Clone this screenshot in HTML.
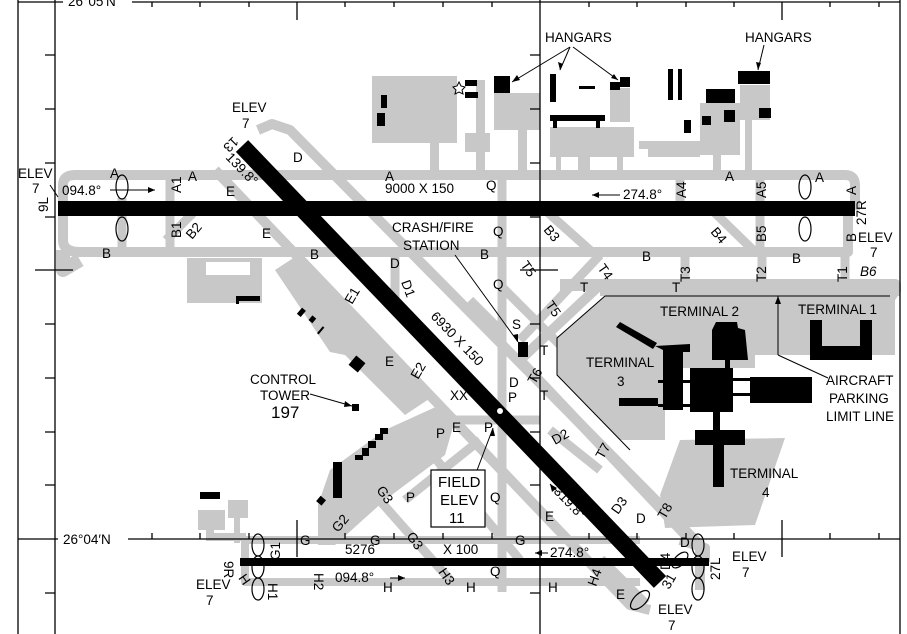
<!DOCTYPE html>
<html><head><meta charset="utf-8"><style>
html,body{margin:0;padding:0;background:#fff;}
svg{display:block;}
text{font-family:"Liberation Sans",sans-serif;fill:#000;}
</style></head><body>
<svg width="907" height="634" viewBox="0 0 907 634" xmlns="http://www.w3.org/2000/svg">
<rect width="907" height="634" fill="#fff"/>
<g fill="#c8c8c8" stroke="none">
<rect x="372" y="76" width="85" height="67"/>
<rect x="430" y="140" width="9" height="35"/>
<rect x="476" y="80" width="9" height="95"/>
<rect x="465" y="133" width="25" height="19"/>
<rect x="494" y="93" width="46" height="37"/>
<rect x="518" y="128" width="9" height="47"/>
<rect x="550" y="127" width="84" height="30"/>
<rect x="556" y="155" width="5" height="20"/><rect x="578" y="155" width="12" height="20"/><rect x="617" y="155" width="6" height="20"/>
<rect x="610" y="88" width="20" height="34"/>
<rect x="639" y="141" width="61" height="8"/><rect x="648" y="147" width="52" height="10"/>
<rect x="700" y="103" width="40" height="52"/>
<rect x="713" y="150" width="8" height="25"/>
<rect x="740" y="85" width="30" height="35"/>
<rect x="745" y="118" width="7" height="57"/>
<path d="M187 258 H262 V303 H187 Z M206 262 H250 V275 H206 Z" fill-rule="evenodd"/>
<polygon points="275,270 298,255 435,395 405,415 345,355 330,352"/>
<polygon points="318,505 330,470 385,430 440,405 455,420 445,455 385,500 335,545 318,545"/>
<polygon points="198,510 225,510 225,530 198,530"/>
<rect x="228" y="500" width="20" height="18"/>
<rect x="206" y="515" width="8" height="25"/>
<rect x="234" y="515" width="6" height="28"/>
<rect x="206" y="533" width="40" height="8"/>
<polygon points="605,296 895,296 895,355 755,355 755,368 665,368 665,440 620,440 557,375 557,338"/>
<polygon points="680,440 785,438 755,525 665,528 660,495"/>
<polygon points="600,290 900,290 900,296 600,296"/>
</g>
<g fill="none" stroke="#c8c8c8" stroke-linejoin="round" stroke-linecap="butt">
<path d="M63 215 V185 Q63 175 75 175 H845 Q855 175 855 185 V210" stroke-width="10"/>
<path d="M63 215 V240 Q63 252 80 252 H848 V212" stroke-width="10"/>
<path d="M63 250 L63 270 L80 260" stroke-width="14"/>
<path d="M560 285 H895 V292" stroke-width="12"/>
<path d="M122 252 V198" stroke-width="9"/>
<path d="M170 175 V252" stroke-width="9"/>
<path d="M166 240 L200 206" stroke-width="9"/>
<path d="M680 175 V215" stroke-width="9"/>
<path d="M760 175 V252" stroke-width="9"/>
<path d="M712 210 L755 252" stroke-width="9"/>
<path d="M545 210 L592 252" stroke-width="9"/>
<path d="M685 252 V285" stroke-width="9"/><path d="M762 252 V285" stroke-width="9"/><path d="M845 252 V285" stroke-width="9"/>
<path d="M875 285 L895 300" stroke-width="9"/>
<path d="M502 170 V592" stroke-width="9"/>
<path d="M258 130 L272 124 L290 130 L700 545 L700 590" stroke-width="10"/>
<path d="M215 170 L630 605 L650 610" stroke-width="10"/>
<path d="M600 285 L520 360 L690 540" stroke-width="10"/>
<path d="M520 340 L600 255" stroke-width="9"/>
<path d="M500 285 L560 345" stroke-width="9"/>
<path d="M470 300 L500 330" stroke-width="9"/>
<path d="M395 250 L395 310" stroke-width="9"/>
<path d="M455 420 L540 420" stroke-width="9"/>
<path d="M420 440 L520 560" stroke-width="9"/>
<path d="M375 495 L450 580" stroke-width="9"/>
<path d="M405 500 L480 440" stroke-width="9"/>
<path d="M550 430 L600 470" stroke-width="9"/>
<path d="M245 540 H640" stroke-width="8"/>
<path d="M245 540 V582 H640" stroke-width="8"/>
<path d="M330 540 L370 500" stroke-width="9"/>
<path d="M600 560 L645 605" stroke-width="12"/>
<path d="M680 540 L705 548 V562" stroke-width="10"/>
</g>
<rect x="58" y="201" width="797" height="15" fill="#000"/>
<line x1="242" y1="146" x2="660" y2="582" stroke="#000" stroke-width="17"/>
<rect x="240" y="558" width="469" height="8" fill="#000"/>
<circle cx="500" cy="411" r="3" fill="#fff"/>
<g fill="#000">
<rect x="381" y="95" width="6" height="13"/><rect x="377" y="113" width="8" height="13"/>
<rect x="465" y="80" width="12" height="6"/><rect x="465" y="92" width="13" height="6"/>
<rect x="494" y="76" width="16" height="17"/>
<rect x="550" y="74" width="6" height="28"/>
<rect x="579" y="86" width="16" height="3"/>
<rect x="550" y="115" width="55" height="6"/><rect x="553" y="121" width="4" height="7"/><rect x="596" y="121" width="4" height="7"/>
<rect x="610" y="82" width="10" height="8"/><rect x="620" y="77" width="10" height="10"/>
<rect x="668" y="69" width="5" height="31"/><rect x="678" y="69" width="4" height="31"/>
<rect x="684" y="120" width="7" height="13"/>
<rect x="706" y="89" width="29" height="14"/>
<rect x="702" y="116" width="9" height="9"/><rect x="724" y="110" width="11" height="12"/>
<rect x="738" y="71" width="32" height="13"/>
<rect x="759" y="108" width="12" height="10"/>
<rect x="237" y="296" width="23" height="5"/><rect x="236" y="296" width="3" height="8"/>
<rect x="299" y="308" width="5" height="8" transform="rotate(40 301 312)"/>
<rect x="310" y="316" width="5" height="6" transform="rotate(40 312 319)"/>
<rect x="320" y="326" width="2" height="9" transform="rotate(40 321 330)"/>
<rect x="351" y="358" width="12" height="12" transform="rotate(40 357 364)"/>
<rect x="352" y="404" width="7" height="7"/>
<rect x="333" y="462" width="9" height="36"/>
<rect x="355" y="455" width="8" height="5"/><rect x="362" y="448" width="7" height="8"/><rect x="368" y="441" width="8" height="7"/><rect x="375" y="434" width="8" height="6"/><rect x="380" y="428" width="8" height="6"/>
<rect x="318" y="497" width="7" height="7" transform="rotate(40 321 500)"/>
<rect x="200" y="492" width="20" height="7"/>
<rect x="518" y="342" width="10" height="15"/>
<polygon points="616,327 620,322 657,343 653,349"/>
<polygon points="655,346 690,344 690,352 683,352 683,410 663,410 663,350"/>
<rect x="619" y="398" width="39" height="8"/>
<rect x="658" y="380" width="32" height="3"/><rect x="658" y="404" width="32" height="3"/>
<rect x="690" y="368" width="43" height="44"/>
<rect x="733" y="378" width="17" height="3"/><rect x="733" y="393" width="17" height="3"/>
<rect x="750" y="377" width="62" height="26"/>
<polygon points="716,322 737,322 738,328 745,330 748,360 712,360 712,330"/>
<rect x="725" y="360" width="5" height="8"/>
<path d="M810 320 H872 V360 H810 Z M822 320 V346 H860 V320 Z" fill-rule="evenodd"/>
<rect x="713" y="412" width="7" height="20"/>
<rect x="695" y="430" width="50" height="15"/>
<rect x="713" y="445" width="11" height="42"/>
</g>
<g stroke="#000" stroke-width="1.3" fill="none">
<line x1="18" y1="0" x2="18" y2="634"/>
<line x1="55" y1="0" x2="55" y2="634"/>
<line x1="900" y1="0" x2="900" y2="634"/>
<line x1="540" y1="0" x2="540" y2="634"/>
<line x1="18" y1="2" x2="63" y2="2"/><line x1="132" y1="2" x2="900" y2="2"/>
<line x1="18" y1="539" x2="58" y2="539"/><line x1="128" y1="539" x2="900" y2="539"/>
<line x1="297" y1="2" x2="297" y2="20"/><line x1="782" y1="2" x2="782" y2="20"/>
<line x1="297" y1="520" x2="297" y2="557"/><line x1="782" y1="520" x2="782" y2="557"/>
<line x1="35" y1="270" x2="73" y2="270"/><line x1="520" y1="270" x2="558" y2="270"/>
<path d="M152 2v5M200 2v5M249 2v5M345 2v5M394 2v5M443 2v5M492 2v5M589 2v5M637 2v5M686 2v5M734 2v5M830 2v5M879 2v5"/>
<path d="M152 539v-6M200 539v-6M249 539v-6M345 539v-6M394 539v-6M443 539v-6M492 539v-6M589 539v-6M637 539v-6M686 539v-6M734 539v-6M830 539v-6M879 539v-6"/>
<path d="M45 55h10M45 109h10M45 163h10M45 217h10M45 324h10M45 378h10M45 432h10M45 485h10M45 593h10"/>
<path d="M530 55h10M530 109h10M530 163h10M530 217h10M530 324h10M530 378h10M530 432h10M530 485h10M530 593h10"/>
</g>
<g stroke="#000" stroke-width="1.2" fill="none">
<ellipse cx="122" cy="187" rx="6" ry="12"/><ellipse cx="122" cy="229" rx="6" ry="12"/>
<ellipse cx="805" cy="187" rx="6" ry="12"/><ellipse cx="805" cy="229" rx="6" ry="12"/>
<ellipse cx="258" cy="545" rx="6" ry="11"/><ellipse cx="258" cy="567" rx="6" ry="11"/><ellipse cx="258" cy="589" rx="6" ry="11"/>
<ellipse cx="698" cy="545" rx="6" ry="11"/><ellipse cx="698" cy="567" rx="6" ry="11"/><ellipse cx="698" cy="589" rx="6" ry="11"/>
<ellipse cx="640" cy="600" rx="6" ry="12" transform="rotate(45 640 600)"/>
<ellipse cx="680" cy="560" rx="5" ry="10" transform="rotate(45 680 560)"/>
</g>
<g stroke="#000" stroke-width="1" fill="none">
<line x1="570" y1="47" x2="512" y2="82"/><line x1="570" y1="47" x2="560" y2="70"/><line x1="573" y1="47" x2="618" y2="80"/>
<line x1="764" y1="45" x2="758" y2="70"/>
<line x1="110" y1="190" x2="155" y2="190"/><line x1="592" y1="195" x2="620" y2="195"/>
<line x1="50" y1="185" x2="58" y2="197"/>
<line x1="455" y1="255" x2="518" y2="342"/>
<line x1="310" y1="394" x2="352" y2="406"/>
<line x1="476" y1="473" x2="493" y2="428"/>
<line x1="605" y1="296" x2="890" y2="296"/>
<polyline points="605,296 557,338 557,375 630,450"/>
<line x1="778" y1="296" x2="778" y2="355"/><line x1="778" y1="355" x2="828" y2="378"/>
<line x1="390" y1="578" x2="405" y2="578"/>
<line x1="550" y1="484" x2="558" y2="492"/>
<line x1="535" y1="553" x2="548" y2="553"/>
</g>
<g font-size="13.5">
<text x="68" y="6">26°05′N</text>
<text x="63" y="544">26°04′N</text>
<text x="545" y="42">HANGARS</text><text x="745" y="42">HANGARS</text>
<text x="18" y="178">ELEV</text><text x="32" y="193">7</text>
<text x="232" y="112">ELEV</text><text x="242" y="128">7</text>
<text x="62" y="195">094.8°</text>
<text x="385" y="193">9000 X 150</text>
<text x="623" y="199">274.8°</text>
<text x="110" y="178">A</text><text x="188" y="181">A</text><text x="385" y="181">A</text><text x="725" y="181">A</text><text x="815" y="182">A</text>
<text x="102" y="258">B</text><text x="310" y="259">B</text><text x="480" y="259">B</text><text x="642" y="261">B</text><text x="792" y="263">B</text>
<text x="392" y="232">CRASH/FIRE</text><text x="403" y="250">STATION</text>
<text x="660" y="316">TERMINAL 2</text><text x="798" y="314">TERMINAL 1</text>
<text x="586" y="367">TERMINAL</text><text x="617" y="386">3</text>
<text x="730" y="478">TERMINAL</text><text x="762" y="497">4</text>
<text x="826" y="385">AIRCRAFT</text><text x="829" y="403">PARKING</text><text x="826" y="421">LIMIT LINE</text>
<text x="250" y="384">CONTROL</text><text x="260" y="400">TOWER</text><text x="271" y="418" font-size="17">197</text>
<text x="858" y="242">ELEV</text><text x="870" y="257">7</text><text x="860" y="276" font-style="italic">B6</text>
<text x="732" y="561">ELEV</text><text x="742" y="577">7</text>
<text x="658" y="614">ELEV</text><text x="668" y="630">7</text>
<text x="196" y="589">ELEV</text><text x="206" y="605">7</text>
<text x="300" y="545">G</text><text x="370" y="545">G</text><text x="515" y="545">G</text>
<text x="345" y="554">5276</text><text x="443" y="554">X 100</text>
<text x="550" y="557">274.8°</text>
<text x="335" y="582">094.8°</text>
<text x="383" y="592">H</text><text x="466" y="592">H</text><text x="548" y="592">H</text>
<text x="580" y="292">T</text><text x="672" y="292">T</text>
<text x="486" y="190">Q</text><text x="493" y="236">Q</text><text x="493" y="289">Q</text><text x="490" y="502">Q</text><text x="490" y="576">Q</text>
<text x="512" y="329">S</text><text x="540" y="355">T</text><text x="540" y="400">T</text>
<text x="293" y="162">D</text><text x="390" y="268">D</text><text x="509" y="387">D</text><text x="636" y="523">D</text><text x="680" y="547">D</text>
<text x="226" y="196">E</text><text x="262" y="238">E</text><text x="385" y="366">E</text><text x="452" y="432">E</text><text x="545" y="521">E</text><text x="616" y="599">E</text>
<text x="508" y="402">P</text><text x="484" y="432">P</text><text x="436" y="438">P</text><text x="406" y="502">P</text>
<text x="450" y="400">XX</text>
</g>
<g font-size="13.5">
<text transform="translate(48,212) rotate(-90)">9L</text>
<text transform="translate(181,193) rotate(-90)">A1</text>
<text transform="translate(181,238) rotate(-90)">B1</text>
<text transform="translate(192,240) rotate(-50)">B2</text>
<text transform="translate(686,198) rotate(-90)">A4</text>
<text transform="translate(766,198) rotate(-90)">A5</text>
<text transform="translate(856,195) rotate(-90)">A</text>
<text transform="translate(856,242) rotate(-90)">B</text>
<text transform="translate(866,225) rotate(-90)">27R</text>
<text transform="translate(766,242) rotate(-90)">B5</text>
<text transform="translate(710,232) rotate(50)">B4</text>
<text transform="translate(543,230) rotate(50)">B3</text>
<text transform="translate(690,282) rotate(-90)">T3</text>
<text transform="translate(766,282) rotate(-90)">T2</text>
<text transform="translate(847,282) rotate(-90)">T1</text>
<text transform="translate(597,268) rotate(55)">T4</text>
<text transform="translate(520,265) rotate(55)">T5</text>
<text transform="translate(545,305) rotate(55)">T5</text>
<text transform="translate(535,385) rotate(-60)">T6</text>
<text transform="translate(603,460) rotate(-60)">T7</text>
<text transform="translate(665,520) rotate(-60)">T8</text>
<text transform="translate(555,445) rotate(-30)">D2</text>
<text transform="translate(618,515) rotate(-55)">D3</text>
<text transform="translate(670,570) rotate(-90)">D4</text>
<text transform="translate(401,282) rotate(70)">D1</text>
<text transform="translate(352,305) rotate(-60)">E1</text>
<text transform="translate(418,380) rotate(-60)">E2</text>
<text transform="translate(233,136) rotate(135)">13</text>
<text transform="translate(225,158) rotate(46)">139.8°</text>
<text transform="translate(430,317) rotate(46)">6930 X 150</text>
<text transform="translate(553,492) rotate(46)">319.8°</text>
<text transform="translate(669,590) rotate(-60)">31</text>
<text transform="translate(720,580) rotate(-90)">27L</text>
<text transform="translate(224,561) rotate(90)">9R</text>
<text transform="translate(280,560) rotate(-90)">G1</text>
<text transform="translate(268,583) rotate(90)">H1</text>
<text transform="translate(314,573) rotate(90)">H2</text>
<text transform="translate(338,533) rotate(-50)">G2</text>
<text transform="translate(376,490) rotate(55)">G3</text>
<text transform="translate(406,536) rotate(55)">G3</text>
<text transform="translate(438,572) rotate(55)">H3</text>
<text transform="translate(596,587) rotate(-70)">H4</text>
<text transform="translate(238,578) rotate(55)">H</text>
</g>
<rect x="431" y="470" width="54" height="57" fill="#fff" stroke="#000" stroke-width="1.2"/>
<text x="438" y="487" font-size="15">FIELD</text>
<text x="440" y="505" font-size="15">ELEV</text>
<text x="449" y="523" font-size="15">11</text>
<g fill="#000">
<polygon points="155,190 148,187 148,193"/>
<polygon points="592,195 599,192 599,198"/>
<polygon points="405,578 398,575 398,581"/>
<polygon points="535,553 542,550 542,556"/>
<polygon points="512,82 517,75 520,80"/>
<polygon points="560,70 558,62 563,64"/>
<polygon points="618,80 611,78 614,74"/>
<polygon points="758,70 756,62 761,63"/>
<polygon points="518,342 513,335 518,334"/>
<polygon points="352,406 345,401 344,407"/>
<polygon points="493,428 490,436 495,436"/>
<polygon points="778,296 775,304 781,304"/>
<polygon points="550,484 552,492 557,488"/>
</g>
<polygon points="459,82 461,86 465,87 462,90 463,94 459,92 455,94 456,90 453,87 457,86" fill="#fff" stroke="#000" stroke-width="1"/>
</svg>
</body></html>
